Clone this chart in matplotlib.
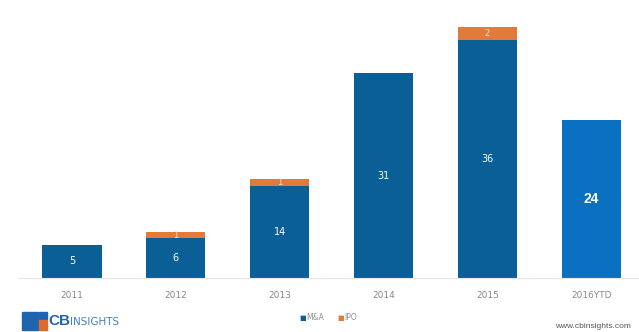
import matplotlib
matplotlib.use("Agg")
import matplotlib.pyplot as plt
from matplotlib.patches import Rectangle

years = ["2011", "2012", "2013", "2014", "2015", "2016YTD"]
ma = [5, 6, 14, 31, 36, 24]
ipo = [0, 1, 1, 0, 2, 0]

C_MA = "#0a5f97"
C_IPO = "#e27b3a"
C_YTD = "#0a70c2"

fig = plt.figure(figsize=(6.39, 3.32), dpi=100)
ax = fig.add_axes([18/639, 1-278/332, 621/639, 278/332])
x = list(range(len(years)))
ma_colors = [C_MA]*5 + [C_YTD]
ax.bar(x, ma, width=0.57, color=ma_colors, zorder=2)
ax.bar(x, ipo, width=0.57, bottom=ma, color=C_IPO, zorder=2)
ax.set_xlim(-0.52, 5.46)
ax.set_ylim(0, 278/6.6)
for s in ["top", "right", "left"]:
    ax.spines[s].set_visible(False)
ax.spines["bottom"].set_color("#e6e6e6")
ax.spines["bottom"].set_linewidth(0.8)
ax.set_yticks([])
ax.set_xticks(x)
ax.set_xticklabels(years, fontsize=6.5, color="#8a8a8a", family="Liberation Sans Narrow")
ax.tick_params(axis="x", length=0, pad=9)

for i in x:
    if i == 5:
        ax.text(i, ma[i]/2, str(ma[i]), ha="center", va="center", color="white",
                fontsize=10, fontweight="bold", family="Liberation Sans")
    else:
        ax.text(i, ma[i]/2, str(ma[i]), ha="center", va="center", color="white",
                fontsize=7, family="Liberation Sans Narrow")
    if ipo[i] > 0:
        ax.text(i, ma[i] + ipo[i]/2, str(ipo[i]), ha="center", va="center",
                color="#f5e0d0", fontsize=6, family="Liberation Sans Narrow")

# legend
ly = 1 - 318/332
fig.text(303/639, ly, "\u25a0", color=C_MA, fontsize=5, ha="center", va="center")
fig.text(306/639, ly, "M&A", color="#909090", fontsize=5.5, ha="left", va="center", family="Liberation Sans Narrow")
fig.text(341/639, ly, "\u25a0", color=C_IPO, fontsize=5, ha="center", va="center")
fig.text(344/639, ly, "IPO", color="#909090", fontsize=5.5, ha="left", va="center", family="Liberation Sans Narrow")

# logo
def rect(px, py, w, h, c):
    fig.patches.append(Rectangle((px/639, 1-(py+h)/332), w/639, h/332,
                                 transform=fig.transFigure, color=c, figure=fig))
rect(22, 312, 16, 18, "#1f64b0")
rect(39, 312, 8, 7, "#1f64b0")
rect(39, 320, 8, 10, "#e06a2a")
fig.text(48/639, 1-321/332, "CB", color="#1f64b0", fontsize=11, fontweight="bold",
         ha="left", va="center", family="Liberation Sans")
fig.text(70/639, 1-322/332, "INSIGHTS", color="#4a7fb8", fontsize=7.5,
         ha="left", va="center", family="Liberation Sans Narrow")
fig.text(555/639, 1-326/332, "www.cbinsights.com", color="#555555", fontsize=6,
         ha="left", va="center", family="Liberation Sans")

fig.savefig("out.png", dpi=100)
